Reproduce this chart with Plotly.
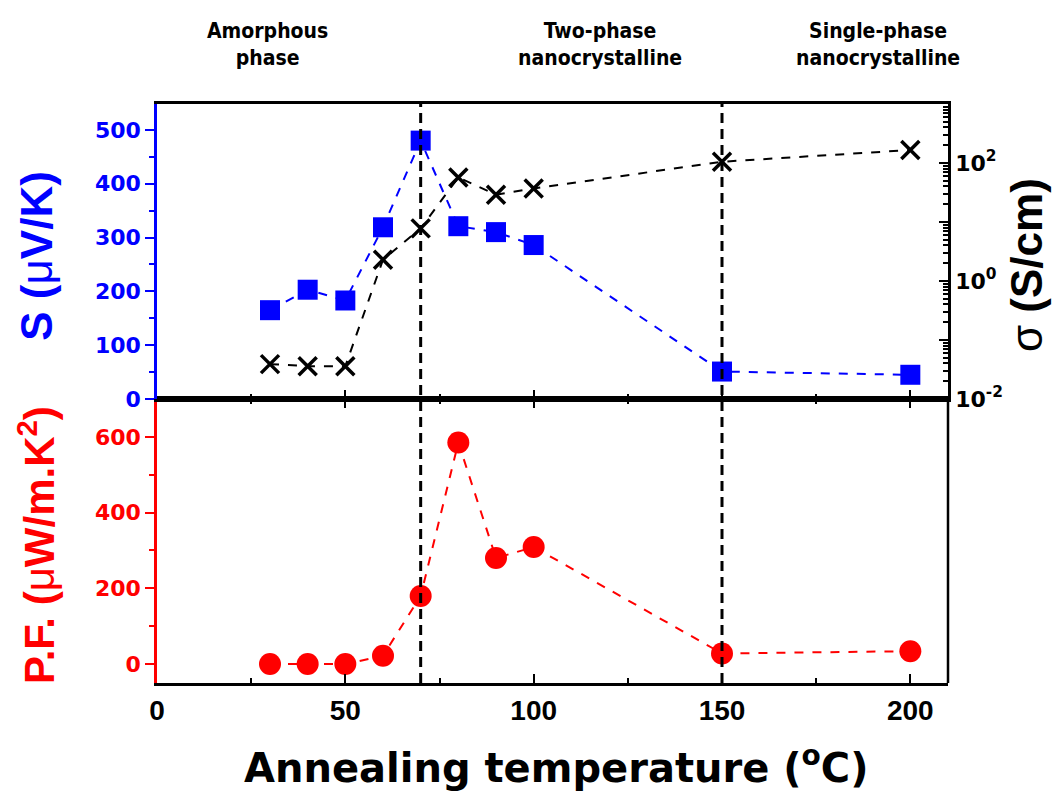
import plotly.graph_objects as go

# Annealing temperatures (°C)
temperature = [30, 40, 50, 60, 70, 80, 90, 100, 150, 200]
# Seebeck coefficient S (µV/K)
seebeck = [165, 203, 183, 319, 480, 321, 310, 286, 51, 45]
# Electrical conductivity σ (S/cm)
conductivity = [0.039, 0.036, 0.036, 2.3, 7.8, 57, 29, 37, 105, 166]
# Power factor (µW/m·K²)
power_factor = [0, 0, 0, 22, 180, 585, 280, 309, 28, 34]

# Phase boundaries and region labels
boundaries = [70, 150]
phase_labels = ["Amorphous<br>phase", "Two-phase<br>nanocrystalline", "Single-phase<br>nanocrystalline"]
phase_label_x = [0.140, 0.560, 0.9115]

# Log-axis labels for σ
sigma_tickvals = [0.01, 0.1, 1, 10, 100, 1000]
sigma_ticktext = ["10<sup>-2</sup>", "", "10<sup>0</sup>", "", "10<sup>2</sup>", ""]

BLUE = "#0000ff"
RED = "#ff0000"
BLACK = "#000000"
split = 0.4905
tick_font_y = dict(family="DejaVu Sans", size=22, weight="bold")
tick_font_x = dict(family="Liberation Sans, Arial", size=28, weight="bold", color=BLACK)
title_family = "Liberation Sans, Arial"

fig = go.Figure()

fig.add_trace(go.Scatter(
    x=temperature, y=seebeck, xaxis="x2", yaxis="y2", mode="lines+markers",
    line=dict(color=BLUE, width=2, dash="9px,9px"),
    marker=dict(symbol="square", size=20, color=BLUE),
    showlegend=False, cliponaxis=False))

fig.add_trace(go.Scatter(
    x=temperature, y=conductivity, xaxis="x2", yaxis="y3", mode="lines+markers",
    line=dict(color=BLACK, width=2, dash="9px,9px"),
    marker=dict(symbol="x-thin", size=18, line=dict(color=BLACK, width=3.5)),
    showlegend=False, cliponaxis=False))

fig.add_trace(go.Scatter(
    x=temperature, y=power_factor, xaxis="x", yaxis="y", mode="lines+markers",
    line=dict(color=RED, width=2, dash="9px,9px"),
    marker=dict(symbol="circle", size=22, color=RED),
    showlegend=False, cliponaxis=False))

xcommon = dict(range=[0, 210], dtick=50, tick0=0, ticks="inside", ticklen=9, tickwidth=2,
               tickcolor=BLACK, showline=True, linecolor=BLACK, linewidth=2.5,
               showgrid=False, zeroline=False,
               minor=dict(dtick=25, tick0=0, ticks="inside", ticklen=5, tickwidth=2, tickcolor=BLACK))

fig.update_layout(
    width=1054, height=791,
    margin=dict(l=157, r=106, t=104, b=108),
    paper_bgcolor="white", plot_bgcolor="white",
    xaxis=dict(**xcommon, anchor="y", mirror="allticks", tickfont=tick_font_x,
               ticklabelstandoff=1),
    xaxis2=dict(**xcommon, anchor="y2", matches="x", mirror=True, showticklabels=False),
    yaxis=dict(domain=[0, split], range=[-50, 700], dtick=200, tick0=0,
               ticks="outside", ticklen=9, tickwidth=2, tickcolor=RED,
               showline=True, linecolor=RED, linewidth=2.5,
               tickfont=dict(**tick_font_y, color=RED), showgrid=False, zeroline=False,
               minor=dict(dtick=100, tick0=0, ticks="outside", ticklen=5, tickwidth=2, tickcolor=RED)),
    yaxis2=dict(domain=[split, 1], range=[0, 548], dtick=100, tick0=0, anchor="x2",
                ticks="outside", ticklen=9, tickwidth=2, tickcolor=BLUE,
                showline=True, linecolor=BLUE, linewidth=2.5,
                tickfont=dict(**tick_font_y, color=BLUE), showgrid=False, zeroline=False,
                minor=dict(dtick=50, tick0=0, ticks="outside", ticklen=5, tickwidth=2, tickcolor=BLUE)),
    yaxis3=dict(overlaying="y2", side="right", anchor="x2", type="log", range=[-2, 3],
                tickvals=sigma_tickvals, ticktext=sigma_ticktext,
                ticks="inside", ticklen=9, tickwidth=2, tickcolor=BLACK,
                showline=True, linecolor=BLACK, linewidth=2.5,
                tickfont=dict(**tick_font_y, color=BLACK), showgrid=False, zeroline=False,
                minor=dict(tickvals=[k * 10 ** e for e in range(-2, 3) for k in range(2, 10)],
                           ticks="inside", ticklen=5, tickwidth=1.5, tickcolor=BLACK)),
)

# Phase boundaries spanning both panels
for b in boundaries:
    fig.add_shape(type="line", xref="x", yref="paper", x0=b, x1=b, y0=0, y1=1,
                  line=dict(color=BLACK, width=3, dash="10px,6px"))

# Right border of the lower panel
fig.add_shape(type="line", xref="paper", yref="paper", x0=1, x1=1, y0=0, y1=split,
              line=dict(color=BLACK, width=2.5))

# Phase region labels
for txt, px in zip(phase_labels, phase_label_x):
    fig.add_annotation(text=txt, xref="paper", yref="paper", x=px, y=1.102,
                       xanchor="center", yanchor="middle", showarrow=False,
                       font=dict(family="DejaVu Sans Condensed, DejaVu Sans", size=21,
                                 weight="bold", color=BLACK))

# Axis titles
fig.add_annotation(text="Annealing temperature (<sup>o</sup>C)", xref="paper", yref="paper",
                   x=0.504, y=-0.141, xanchor="center", yanchor="middle", showarrow=False,
                   font=dict(family="DejaVu Sans", size=40, weight="bold", color=BLACK))
fig.add_annotation(text="S (<span style='font-weight:normal'>μ</span>V/K)", xref="paper", yref="paper",
                   x=-0.152, y=0.7375, xanchor="center", yanchor="middle", textangle=-90,
                   showarrow=False,
                   font=dict(family=title_family, size=44, weight="bold", color=BLUE))
fig.add_annotation(text="P.F. (<span style='font-weight:normal'>μ</span>W/m.K<sup>2</sup>)",
                   xref="paper", yref="paper",
                   x=-0.152, y=0.238, xanchor="center", yanchor="middle", textangle=-90,
                   showarrow=False,
                   font=dict(family=title_family, size=42, weight="bold", color=RED))
fig.add_annotation(text="<span style='font-weight:normal'>σ</span> (S/cm)", xref="paper", yref="paper",
                   x=1.1, y=0.722, xanchor="center", yanchor="middle", textangle=-90,
                   showarrow=False,
                   font=dict(family=title_family, size=44, weight="bold", color=BLACK))

fig.write_html("out.html")
